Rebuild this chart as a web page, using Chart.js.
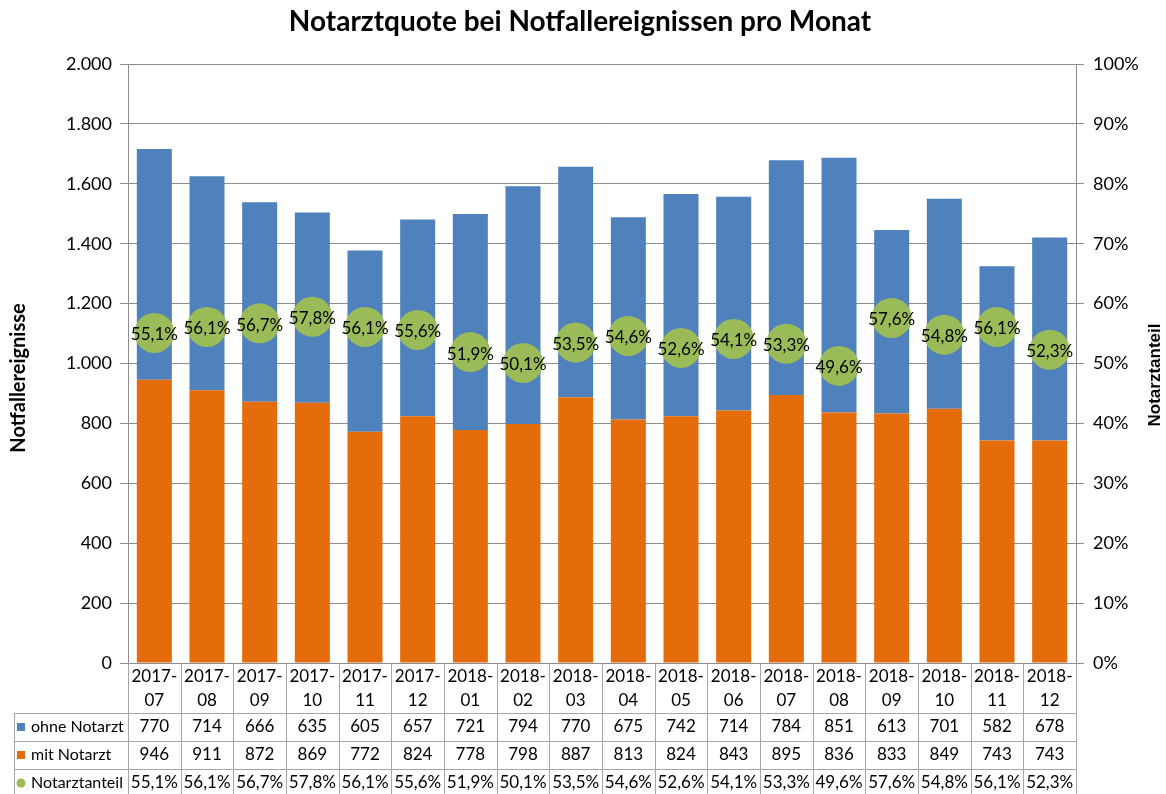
<!DOCTYPE html>
<html>
<head>
<meta charset="utf-8">
<title>Notarztquote</title>
<script src="https://cdn.jsdelivr.net/npm/chart.js@4/dist/chart.umd.min.js"></script>
<style>
  html, body { margin: 0; padding: 0; background: #fff; }
  #wrap { width: 1166px; height: 794px; }
</style>
</head>
<body>
<div id="wrap"><canvas id="chart" width="1166" height="794"></canvas></div>
<script>
// months shown on the x axis (two lines each in the table header)
const months = ["2017-07", "2017-08", "2017-09", "2017-10", "2017-11", "2017-12",
  "2018-01", "2018-02", "2018-03", "2018-04", "2018-05", "2018-06",
  "2018-07", "2018-08", "2018-09", "2018-10", "2018-11", "2018-12"];
const ohneNotarzt = [770, 714, 666, 635, 605, 657, 721, 794, 770, 675, 742, 714, 784, 851, 613, 701, 582, 678];
const mitNotarzt = [946, 911, 872, 869, 772, 824, 778, 798, 887, 813, 824, 843, 895, 836, 833, 849, 743, 743];
const notarztanteil = [55.1, 56.1, 56.7, 57.8, 56.1, 55.6, 51.9, 50.1, 53.5, 54.6, 52.6, 54.1, 53.3, 49.6, 57.6, 54.8, 56.1, 52.3];
const leftTicks = { min: 0, max: 2000, step: 200 };
const rightTicks = { min: 0, max: 100, step: 10 };

const BLUE = "#4F81BD";
const ORANGE = "#E46C0A";
const GREEN = "#9BBB59";
const GRID = "#8c8c8c";
const TABLE_LINE = "#a6a6a6";
const FONT = "Lato, 'Open Sans', sans-serif";

function thousands(v) {
  return String(v).replace(/\B(?=(\d{3})+(?!\d))/g, ".");
}

function pct(v) {
  return v.toFixed(1).replace(".", ",") + "%";
}

const decorPlugin = {
  id: "decor",
  beforeDraw(chart) {
    const ctx = chart.ctx;
    ctx.save();
    ctx.fillStyle = "#fff";
    ctx.fillRect(0, 0, chart.width, chart.height);
    ctx.restore();
  },
  afterDatasetsDraw(chart) {
    // percentage labels sitting on the green circles
    const ctx = chart.ctx;
    const meta = chart.getDatasetMeta(2);
    ctx.save();
    ctx.font = "17px " + FONT;
    ctx.fillStyle = "#000";
    ctx.textAlign = "center";
    ctx.textBaseline = "middle";
    meta.data.forEach((pt, i) => {
      ctx.fillText(pct(notarztanteil[i]), pt.x, pt.y + 2);
    });
    ctx.restore();
  },
  afterDraw(chart) {
    const ctx = chart.ctx;
    const area = chart.chartArea;
    const xs = chart.scales.x;
    const half = (xs.getPixelForValue(1) - xs.getPixelForValue(0)) / 2;

    ctx.save();
    // title
    ctx.fillStyle = "#000";
    ctx.textAlign = "center";
    ctx.textBaseline = "middle";
    ctx.font = "bold 28px " + FONT;
    ctx.fillText("Notarztquote bei Notfallereignissen pro Monat", 580, 22);

    // axis titles
    ctx.save();
    ctx.translate(19, 378);
    ctx.rotate(-Math.PI / 2);
    ctx.font = "bold 20px " + FONT;
    ctx.fillText("Notfallereignisse", 0, 0);
    ctx.restore();

    ctx.save();
    ctx.translate(1155, 375);
    ctx.rotate(-Math.PI / 2);
    ctx.font = "bold 17px 'Liberation Sans', Arial, sans-serif";
    ctx.fillText("Notarztanteil", 0, 0);
    ctx.restore();

    // data table
    const top = area.bottom;
    const rowY = [713, 741, 769, 797];
    const tableLeft = 14;
    ctx.strokeStyle = TABLE_LINE;
    ctx.lineWidth = 1;
    ctx.beginPath();
    for (let i = 0; i <= months.length; i++) {
      const x = Math.round(xs.getPixelForValue(i) - half) + 0.5;
      ctx.moveTo(x, top);
      ctx.lineTo(x, rowY[3]);
    }
    rowY.forEach(y => {
      ctx.moveTo(tableLeft, y + 0.5);
      ctx.lineTo(Math.round(area.right) + 0.5, y + 0.5);
    });
    ctx.moveTo(tableLeft + 0.5, rowY[0]);
    ctx.lineTo(tableLeft + 0.5, rowY[3]);
    ctx.stroke();

    ctx.font = "17px " + FONT;
    ctx.fillStyle = "#000";
    ctx.textAlign = "center";
    months.forEach((m, i) => {
      const cx = xs.getPixelForValue(i);
      const parts = m.split("-");
      ctx.fillText(parts[0] + "-", cx, 677);
      ctx.fillText(parts[1], cx, 701);
      ctx.fillText(String(ohneNotarzt[i]), cx, 727);
      ctx.fillText(String(mitNotarzt[i]), cx, 755);
      ctx.fillText(pct(notarztanteil[i]), cx, 783);
    });

    // row headers with legend keys
    ctx.textAlign = "left";
    ctx.fillStyle = BLUE;
    ctx.fillRect(17, 723, 8, 8);
    ctx.fillStyle = ORANGE;
    ctx.fillRect(17, 751, 8, 8);
    ctx.fillStyle = GREEN;
    ctx.beginPath();
    ctx.arc(21, 783, 4.5, 0, Math.PI * 2);
    ctx.fill();
    ctx.fillStyle = "#000";
    ctx.font = "16px " + FONT;
    ctx.fillText("ohne Notarzt", 31, 727);
    ctx.fillText("mit Notarzt", 31, 755);
    ctx.fillText("Notarztanteil", 31, 783);
    ctx.restore();
  }
};

new Chart(document.getElementById("chart"), {
  type: "bar",
  data: {
    labels: months,
    datasets: [
      {
        label: "mit Notarzt",
        data: mitNotarzt,
        backgroundColor: ORANGE,
        stack: "s",
        yAxisID: "y",
        order: 2
      },
      {
        label: "ohne Notarzt",
        data: ohneNotarzt,
        backgroundColor: BLUE,
        stack: "s",
        yAxisID: "y",
        order: 2
      },
      {
        type: "line",
        label: "Notarztanteil",
        data: notarztanteil,
        yAxisID: "y2",
        showLine: false,
        pointRadius: 20,
        pointHoverRadius: 20,
        pointBackgroundColor: GREEN,
        pointBorderWidth: 0,
        order: 1
      }
    ]
  },
  options: {
    responsive: false,
    animation: false,
    events: [],
    layout: { padding: { top: 64, bottom: 131, left: 0, right: 0 } },
    datasets: {
      bar: { categoryPercentage: 1, barPercentage: 0.665 }
    },
    plugins: {
      legend: { display: false },
      title: { display: false },
      tooltip: { enabled: false }
    },
    scales: {
      x: {
        display: false,
        stacked: true,
        offset: true
      },
      y: {
        stacked: true,
        position: "left",
        min: leftTicks.min,
        max: leftTicks.max,
        afterFit(scale) { scale.width = 128; },
        ticks: {
          stepSize: leftTicks.step,
          color: "#000",
          padding: 8,
          font: { family: FONT, size: 18 },
          callback: v => thousands(v)
        },
        grid: { color: GRID, tickLength: 8, tickColor: GRID },
        border: { color: GRID }
      },
      y2: {
        position: "right",
        min: rightTicks.min,
        max: rightTicks.max,
        afterFit(scale) { scale.width = 90; },
        ticks: {
          stepSize: rightTicks.step,
          color: "#000",
          padding: 9,
          font: { family: FONT, size: 18 },
          callback: v => v + "%"
        },
        grid: { drawOnChartArea: false, tickLength: 8, color: GRID },
        border: { color: GRID }
      }
    }
  },
  plugins: [decorPlugin]
});
</script>
</body>
</html>
